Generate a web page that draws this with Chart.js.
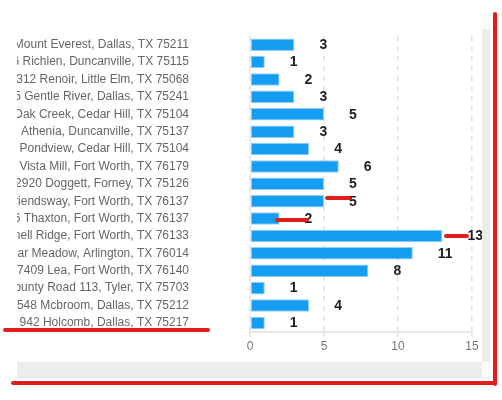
<!DOCTYPE html>
<html lang="en">
<head>
    <meta charset="UTF-8">
    <title>Jobs by address</title>
    <style>
      body { margin: 0; background: #fff; }
      .clip { position: absolute; left: 17px; top: 0; width: 465px; height: 362px; overflow: hidden; }
      .clip canvas { position: absolute; left: -17px; top: 0; }
      .track { position: absolute; background: #ececec; }
      .mark { position: absolute; background: #e31c1c; border-radius: 2px; }
    </style>
</head>
<body>

    <div class="clip">
      <canvas id="myChart" width="482" height="362"></canvas>
    </div>

    <!-- scroll tracks -->
    <div class="track" style="left:482px; top:29px; width:8px; height:333px"></div>
    <div class="track" style="left:17px; top:362px; width:465px; height:16px"></div>

    <!-- red pen marks -->
    <div class="mark" style="left:493px; top:12px; width:4px; height:374px"></div>
    <div class="mark" style="left:11px; top:381px; width:484px; height:4px"></div>
    <div class="mark" style="left:3px; top:328px; width:207px; height:4px"></div>
    <div class="mark" style="left:325px; top:196px; width:26px; height:3.5px"></div>
    <div class="mark" style="left:275px; top:218px; width:34px; height:3.5px"></div>
    <div class="mark" style="left:444px; top:234px; width:25px; height:3.5px"></div>

    <script src="https://cdn.jsdelivr.net/npm/chart.js"></script>
    <script>
      var addresses = [
        'Mount Everest, Dallas, TX 75211',
        '6 Richlen, Duncanville, TX 75115',
        '312 Renoir, Little Elm, TX 75068',
        '5 Gentle River, Dallas, TX 75241',
        'Oak Creek, Cedar Hill, TX 75104',
        '7 Athenia, Duncanville, TX 75137',
        'Pondview, Cedar Hill, TX 75104',
        'Vista Mill, Fort Worth, TX 76179',
        '2920 Doggett, Forney, TX 75126',
        'Friendsway, Fort Worth, TX 76137',
        '6 Thaxton, Fort Worth, TX 76137',
        'nell Ridge, Fort Worth, TX 76133',
        'Briar Meadow, Arlington, TX 76014',
        '7409 Lea, Fort Worth, TX 76140',
        'County Road 113, Tyler, TX 75703',
        '548 Mcbroom, Dallas, TX 75212',
        '942 Holcomb, Dallas, TX 75217'
      ];
      var counts = [3, 1, 2, 3, 5, 3, 4, 6, 5, 5, 2, 13, 11, 8, 1, 4, 1];
      var xTicks = [0, 5, 10, 15];

      // numbers written to the right of each bar
      var valueLabels = {
        id: 'valueLabels',
        afterDatasetsDraw: function (chart) {
          var ctx = chart.ctx;
          var meta = chart.getDatasetMeta(0);
          ctx.save();
          ctx.font = 'bold 14px Arial, "Liberation Sans", sans-serif';
          ctx.fillStyle = '#1e1e1e';
          ctx.textAlign = 'left';
          ctx.textBaseline = 'middle';
          meta.data.forEach(function (bar, i) {
            ctx.fillText(counts[i], bar.x + 25, bar.y + 0.5);
          });
          ctx.restore();
        }
      };

      var ctx = document.getElementById('myChart').getContext('2d');
      var myChart = new Chart(ctx, {
        type: 'bar',
        data: {
          labels: addresses,
          datasets: [{
            data: counts,
            backgroundColor: 'rgb(20,157,241)',
            borderColor: 'rgb(150,205,245)',
            borderWidth: 1,
            borderSkipped: false
          }]
        },
        options: {
          indexAxis: 'y',
          responsive: false,
          animation: false,
          layout: { padding: { top: 36, right: 10, bottom: 5, left: 0 } },
          plugins: { legend: { display: false }, tooltip: { enabled: false } },
          scales: {
            x: {
              min: xTicks[0],
              max: xTicks[xTicks.length - 1],
              afterBuildTicks: function (scale) {
                scale.ticks = xTicks.map(function (v) { return { value: v }; });
              },
              ticks: {
                color: '#777',
                padding: 3,
                font: { family: 'Arial, "Liberation Sans", sans-serif', size: 12 }
              },
              grid: {
                color: '#e2e2e2',
                lineWidth: 1.5,
                tickLength: 5,
                tickColor: '#e2e2e2'
              },
              border: { display: true, color: '#e6e6e6', width: 2, dash: [5, 5] }
            },
            y: {
              afterFit: function (scale) { scale.width = 250; },
              ticks: {
                color: '#666',
                padding: 3,
                autoSkip: false,
                font: { family: 'Arial, "Liberation Sans", sans-serif', size: 12 }
              },
              // hidden grid, long tick length only pushes the labels away from the bars
              grid: { display: false, drawTicks: true, tickLength: 58 },
              border: { display: true, color: '#ececec', width: 1 }
            }
          }
        },
        plugins: [valueLabels]
      });
    </script>
</body>
</html>
